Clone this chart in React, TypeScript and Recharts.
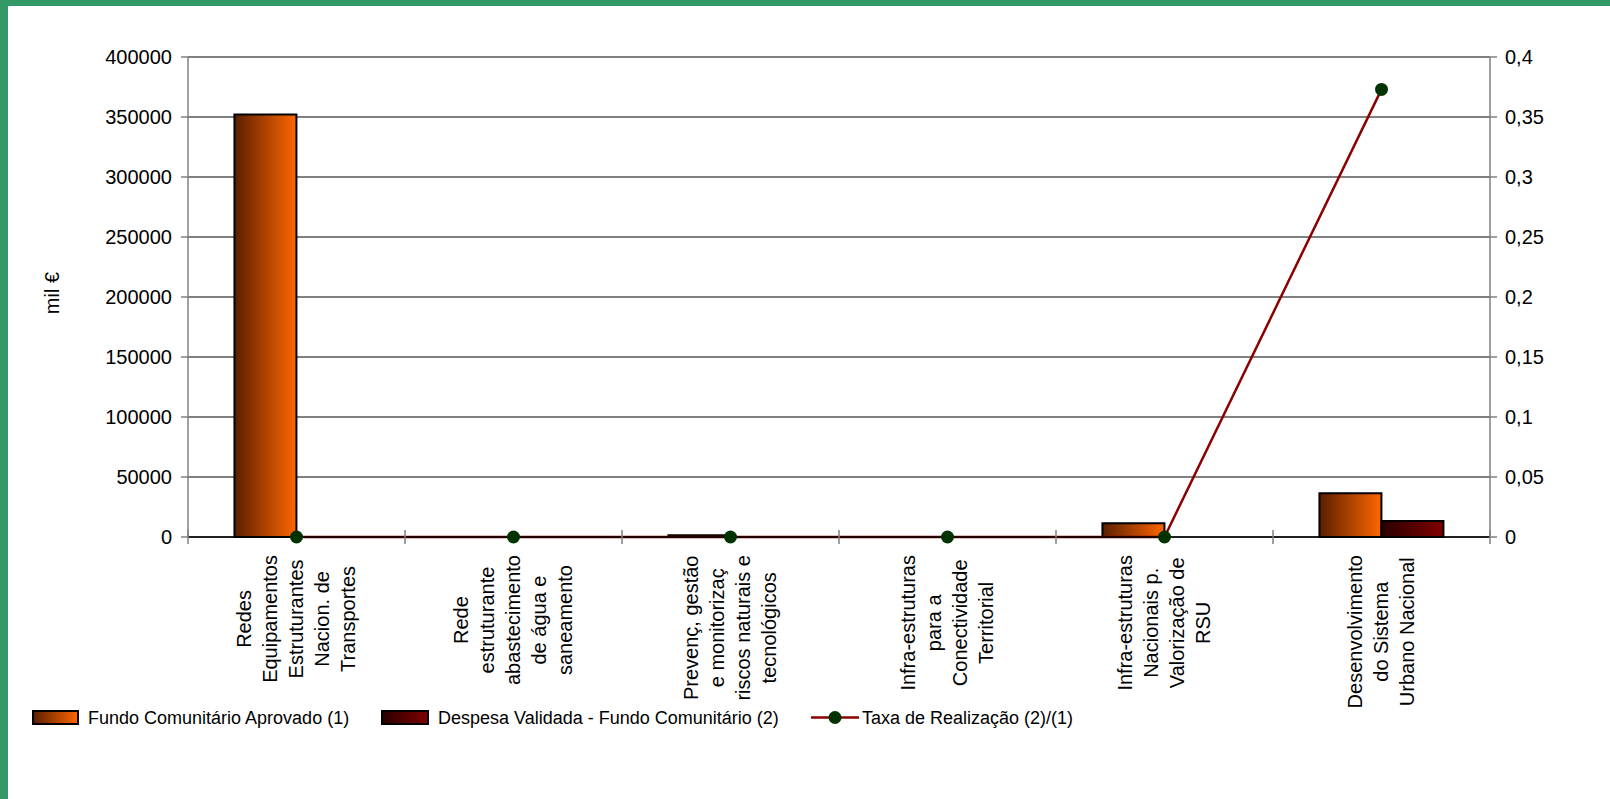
import React from 'react';
import { ComposedChart, Bar, Line, XAxis, YAxis, CartesianGrid, Label } from 'recharts';

const categoryLabels = [
  'Redes\nEquipamentos\nEstruturantes\nNacion. de\nTransportes',
  'Rede\nestruturante\nabastecimento\nde água e\nsaneamento',
  'Prevenç, gestão\ne monitorizaç\nriscos naturais e\ntecnológicos',
  'Infra-estruturas\npara a\nConectividade\nTerritorial',
  'Infra-estruturas\nNacionais p.\nValorização de\nRSU',
  'Desenvolvimento\ndo Sistema\nUrbano Nacional',
];
const fundoAprovado = [352000, 0, 1500, 0, 11500, 36400];
const despesaValidada = [0, 0, 0, 0, 0, 13300];
const taxaRealizacao = [0, 0, 0, 0, 0, 0.373];
const leftTicks = [0, 50000, 100000, 150000, 200000, 250000, 300000, 350000, 400000];
const rightTicks = [0, 0.05, 0.1, 0.15, 0.2, 0.25, 0.3, 0.35, 0.4];
const seriesNames = [
  'Fundo Comunitário Aprovado (1)',
  'Despesa Validada - Fundo Comunitário (2)',
  'Taxa de Realização (2)/(1)',
];
const leftAxisTitle = 'mil €';

const data = categoryLabels.map((name, i) => ({
  name,
  fundo: fundoAprovado[i],
  despesa: despesaValidada[i],
  taxa: taxaRealizacao[i],
}));

const FONT = '"Liberation Sans", Arial, sans-serif';
const W = 1610;
const H = 799;
const MARGIN = { top: 57, right: 20, bottom: 0, left: 30 };
const LEFT_W = 158;
const RIGHT_W = 100;
const PLOT_W = W - MARGIN.left - MARGIN.right - LEFT_W - RIGHT_W;

let ctx: CanvasRenderingContext2D | null = null;
function measure(s: string, font: string): number {
  if (!ctx) ctx = document.createElement('canvas').getContext('2d');
  if (!ctx) return s.length * 10;
  ctx.font = font;
  return ctx.measureText(s).width;
}

const XTick = (props: any) => {
  const { x, y, payload, index } = props;
  const half = payload && payload.offset ? payload.offset : PLOT_W / categoryLabels.length / 2;
  const lines = String(payload.value).split('\n');
  const maxW = Math.max(...lines.map((l) => measure(l, `20px "Liberation Sans"`)));
  const cy = y + 18 + maxW / 2;
  return (
    <g>
      {index === 0 && (
        <line x1={x - half} y1={y - 7} x2={x - half} y2={y + 7} stroke="#808080" strokeWidth={1.5} />
      )}
      <line x1={x + half} y1={y - 7} x2={x + half} y2={y + 7} stroke="#808080" strokeWidth={1.5} />
      {lines.map((l, i) => {
        const cx = x + (i - (lines.length - 1) / 2) * 26;
        return (
          <text
            key={i}
            x={cx}
            y={cy}
            transform={`rotate(-90 ${cx} ${cy})`}
            textAnchor="middle"
            dominantBaseline="central"
            fontSize={20}
            fontFamily={FONT}
            fill="#000"
          >
            {l}
          </text>
        );
      })}
    </g>
  );
};

const fmtRight = (v: number) => (v === 0 ? '0' : String(Math.round(v * 100) / 100).replace('.', ','));

const Legend = () => (
  <svg
    width={W}
    height={40}
    style={{ position: 'absolute', left: 0, top: 697 }}
    fontFamily={FONT}
  >
    <defs>
      <linearGradient id="lgFundo" x1="0" y1="0" x2="1" y2="0">
        <stop offset="0%" stopColor="#5a1f00" />
        <stop offset="100%" stopColor="#ff6600" />
      </linearGradient>
      <linearGradient id="lgDesp" x1="0" y1="0" x2="1" y2="0">
        <stop offset="0%" stopColor="#2a0000" />
        <stop offset="100%" stopColor="#800000" />
      </linearGradient>
    </defs>
    <rect x={33} y={14} width={45} height={13} fill="url(#lgFundo)" stroke="#000" strokeWidth={2} />
    <text x={88} y={20.5} fontSize={18} dominantBaseline="central" fill="#000">{seriesNames[0]}</text>
    <rect x={382} y={14} width={46} height={13} fill="url(#lgDesp)" stroke="#000" strokeWidth={2} />
    <text x={438} y={20.5} fontSize={18} dominantBaseline="central" fill="#000">{seriesNames[1]}</text>
    <line x1={811} y1={20.5} x2={859} y2={20.5} stroke="#8b0000" strokeWidth={2.5} />
    <circle cx={835} cy={20.5} r={6.5} fill="#003300" />
    <text x={862} y={20.5} fontSize={18} dominantBaseline="central" fill="#000">{seriesNames[2]}</text>
  </svg>
);

export default function App() {
  return (
    <div
      style={{
        position: 'absolute',
        left: 0,
        top: 0,
        width: W,
        height: H,
        background: '#fff',
        fontFamily: FONT,
        overflow: 'hidden',
      }}
    >
      <div style={{ position: 'absolute', left: 0, top: 0, width: W, height: 6, background: '#339966' }} />
      <div style={{ position: 'absolute', left: 0, top: 0, width: 8, height: H, background: '#339966' }} />
      <div style={{ position: 'absolute', left: 0, top: 0 }}>
        <ComposedChart
          width={W}
          height={H}
          data={data}
          margin={MARGIN}
          barCategoryGap="21.4%"
          barGap={0}
        >
          <defs>
            <linearGradient id="gFundo" x1="0" y1="0" x2="1" y2="0">
              <stop offset="0%" stopColor="#5a1f00" />
              <stop offset="100%" stopColor="#ff6600" />
            </linearGradient>
            <linearGradient id="gDesp" x1="0" y1="0" x2="1" y2="0">
              <stop offset="0%" stopColor="#2a0000" />
              <stop offset="100%" stopColor="#800000" />
            </linearGradient>
          </defs>
          <CartesianGrid yAxisId="left" vertical={false} stroke="#000" strokeWidth={1} />
          <XAxis
            dataKey="name"
            type="category"
            height={262}
            interval={0}
            tickLine={false}
            tickSize={0}
            tickMargin={0}
            axisLine={{ stroke: '#000', strokeWidth: 1.5 }}
            tick={<XTick />}
          />
          <YAxis
            yAxisId="left"
            orientation="left"
            width={LEFT_W}
            domain={[0, 400000]}
            ticks={leftTicks}
            interval={0}
            tickSize={7}
            tickMargin={9}
            axisLine={{ stroke: '#808080', strokeWidth: 1.5 }}
            tickLine={{ stroke: '#808080', strokeWidth: 1.5 }}
            tick={{ fill: '#000', fontSize: 20, fontFamily: FONT }}
          >
            <Label
              content={(p: any) => {
                const vb = p.viewBox || { x: MARGIN.left, y: MARGIN.top, height: 480 };
                const cx = vb.x + 22;
                const cy = vb.y + vb.height / 2 - 4;
                return (
                  <text
                    x={cx}
                    y={cy}
                    transform={`rotate(-90 ${cx} ${cy})`}
                    textAnchor="middle"
                    dominantBaseline="central"
                    fontSize={20}
                    fontFamily={FONT}
                    fill="#000"
                  >
                    {leftAxisTitle}
                  </text>
                );
              }}
            />
          </YAxis>
          <YAxis
            yAxisId="right"
            orientation="right"
            width={RIGHT_W}
            domain={[0, 0.4]}
            ticks={rightTicks}
            interval={0}
            tickFormatter={fmtRight}
            tickSize={7}
            tickMargin={8}
            axisLine={{ stroke: '#808080', strokeWidth: 1.5 }}
            tickLine={{ stroke: '#808080', strokeWidth: 1.5 }}
            tick={{ fill: '#000', fontSize: 20, fontFamily: FONT }}
          />
          <Bar
            yAxisId="left"
            dataKey="fundo"
            name={seriesNames[0]}
            fill="url(#gFundo)"
            stroke="#000"
            strokeWidth={2}
            isAnimationActive={false}
          />
          <Bar
            yAxisId="left"
            dataKey="despesa"
            name={seriesNames[1]}
            fill="url(#gDesp)"
            stroke="#000"
            strokeWidth={2}
            isAnimationActive={false}
          />
          <Line
            yAxisId="right"
            type="linear"
            dataKey="taxa"
            name={seriesNames[2]}
            stroke="#8b0000"
            strokeWidth={2.5}
            dot={{ r: 6.5, fill: '#003300', stroke: '#003300', strokeWidth: 0 }}
            activeDot={false}
            isAnimationActive={false}
          />
        </ComposedChart>
      </div>
      <Legend />
    </div>
  );
}
